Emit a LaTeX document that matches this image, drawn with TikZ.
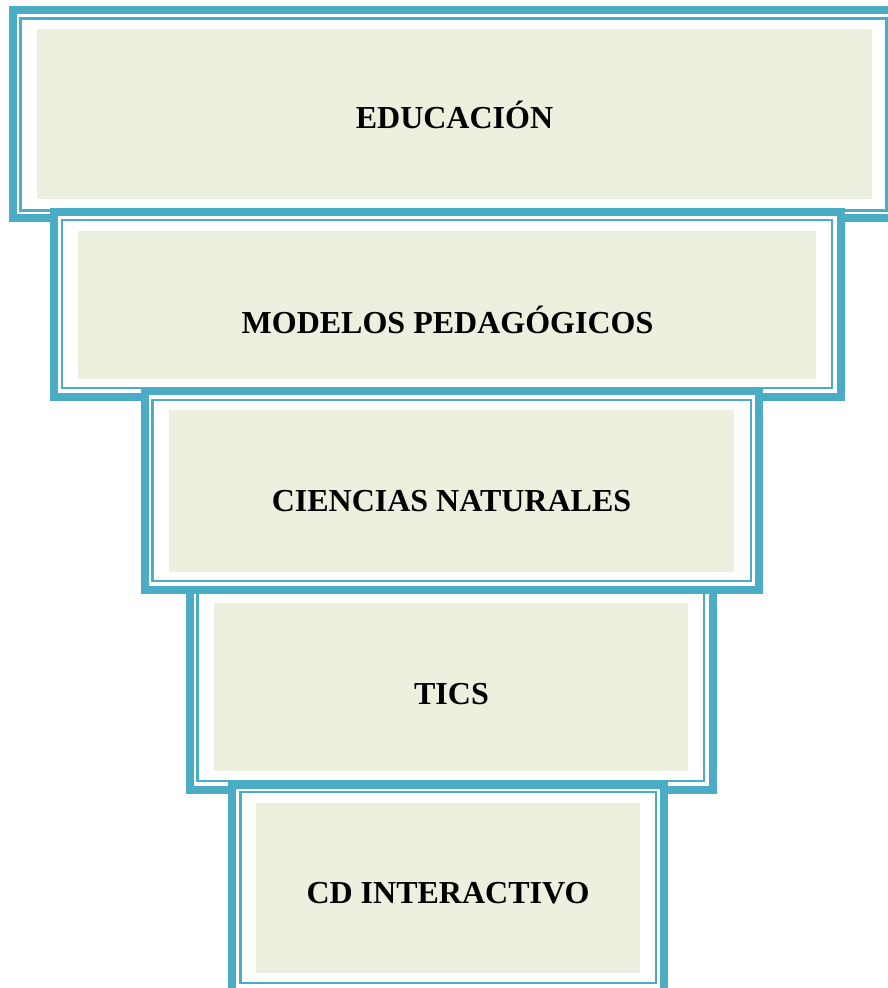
\documentclass[tikz,border=0pt]{standalone}
\usepackage{fontspec}
\setmainfont{Liberation Serif}
\definecolor{tblue}{HTML}{4BACC6}
\definecolor{tgreen}{HTML}{EBF1DE}
\tikzset{
  thickline/.style={draw=tblue, line width=8pt},
  thinline/.style={draw=tblue, line width=2.5pt},
  greenfill/.style={fill=tgreen},
  whitefill/.style={fill=white},
  tierlabel/.style={font=\bfseries\fontsize{32}{38}\selectfont, anchor=base, inner sep=0pt, text=black}
}
\begin{document}
\begin{tikzpicture}[x=1pt,y=-1pt]
\clip (0,0) rectangle (888,988);
\fill[white] (0,0) rectangle (888,988);
% box 1
\fill[whitefill] (9,6) rectangle (899,222);
\draw[thickline] (13,10) rectangle (895,218);
\draw[thinline] (20.5,18.5) rectangle (886.5,210.5);
\fill[greenfill] (37,29) rectangle (872,199);
% box 2
\fill[whitefill] (50,208) rectangle (844,401);
\draw[thickline] (54,212) rectangle (840.5,397);
\draw[thinline] (62,220) rectangle (832,388);
\fill[greenfill] (78,231) rectangle (816,379);
% box 4 (under box 3)
\fill[whitefill] (186,571) rectangle (717,793);
\draw[thickline] (189.5,575) rectangle (713,789.5);
\draw[thinline] (197.5,583) rectangle (704,781);
\fill[greenfill] (214,603) rectangle (688,771);
% box 3
\fill[whitefill] (141,387) rectangle (763,593);
\draw[thickline] (144.5,391) rectangle (759,589.5);
\draw[thinline] (152.5,400) rectangle (751,581);
\fill[greenfill] (169,410) rectangle (734,572);
% box 5
\fill[whitefill] (228,781) rectangle (668,996);
\draw[thickline] (232,784.5) rectangle (664,992);
\draw[thinline] (240.5,792) rectangle (656,983);
\fill[greenfill] (256,803) rectangle (640,973);
% labels
\node[tierlabel] (educ) at (454.5,128.5) {EDUCACIÓN};
\node[tierlabel] (model) at (447.5,333) {MODELOS PEDAGÓGICOS};
\node[tierlabel] (cien) at (451.5,511) {CIENCIAS NATURALES};
\node[tierlabel] (tics) at (451.5,704) {TICS};
\node[tierlabel] (cd) at (448,903) {CD INTERACTIVO};
\end{tikzpicture}
\end{document}
